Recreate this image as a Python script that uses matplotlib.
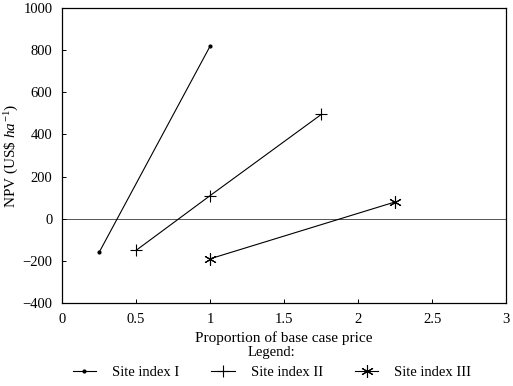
import matplotlib
matplotlib.use("Agg")
import matplotlib.pyplot as plt

plt.rcParams['font.family'] = ['Liberation Serif', 'DejaVu Serif']
plt.rcParams['mathtext.fontset'] = 'custom'
plt.rcParams['mathtext.rm'] = 'Liberation Serif'
plt.rcParams['mathtext.it'] = 'Liberation Serif:italic'

site1_x = [0.25, 1.0]
site1_y = [-160, 820]
site2_x = [0.5, 1.0, 1.75]
site2_y = [-150, 110, 495]
site3_x = [1.0, 2.25]
site3_y = [-190, 80]

xticks = [0, 0.5, 1, 1.5, 2, 2.5, 3]
xticklabels = ['0', '0.5', '1', '1.5', '2', '2.5', '3']
yticks = [-400, -200, 0, 200, 400, 600, 800, 1000]

fig = plt.figure(figsize=(5.13, 3.86), dpi=100)
ax = fig.add_axes([0.121, 0.215, 0.866, 0.764])

ax.axhline(0, color='#555555', lw=0.7, zorder=1)
ax.plot(site1_x, site1_y, color='black', lw=0.8, marker='.', ms=4, label='Site index I')
ax.plot(site2_x, site2_y, color='black', lw=0.8, marker='+', ms=8, mew=0.8, label='Site index II')
ax.plot(site3_x, site3_y, color='black', lw=0.8, marker=(6, 2, 0), ms=9, mew=0.8, label='Site index III')

ax.set_xlim(0, 3)
ax.set_ylim(-400, 1000)
ax.set_xticks(xticks)
ax.set_xticklabels(xticklabels)
ax.set_yticks(yticks)
ax.tick_params(direction='in', length=3, width=0.7, labelsize=10.5, pad=7)
for s in ax.spines.values():
    s.set_linewidth(0.9)

ax.set_xlabel('Proportion of base case price', fontsize=11, labelpad=4)
ax.set_ylabel(r'NPV (US\$ $\it{ha}^{-1}$)', fontsize=11, labelpad=1)

leg = fig.legend(loc='lower center', bbox_to_anchor=(0.53, -0.005), ncol=3, frameon=False,
                 title='Legend:', fontsize=10.5, title_fontsize=10.5, handlelength=1.6,
                 columnspacing=2.2, handletextpad=1.1, borderaxespad=0.2)

fig.savefig('out.png', dpi=100)
